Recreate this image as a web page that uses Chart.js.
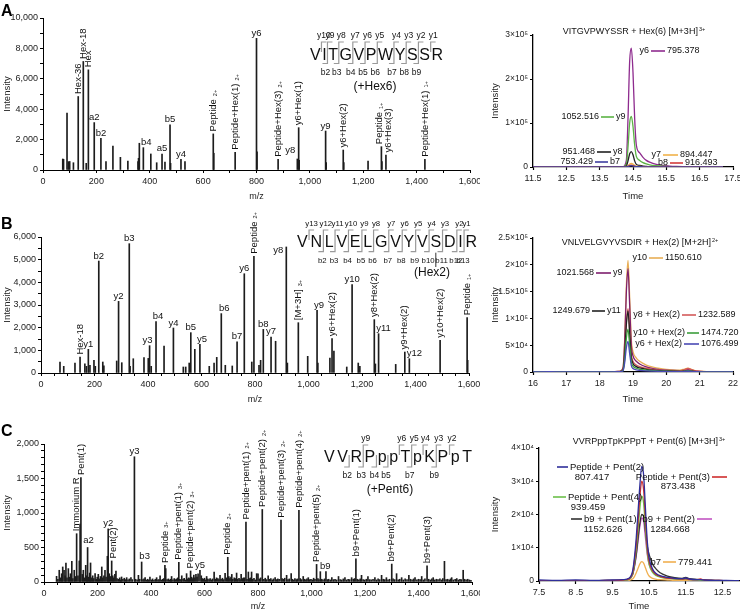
<!DOCTYPE html>
<html>
<head>
<meta charset="utf-8">
<script src="https://cdn.jsdelivr.net/npm/chart.js@4.4.1/dist/chart.umd.min.js"></script>
<style>
html, body { margin: 0; padding: 0; background: #fff; }
body { width: 740px; height: 612px; position: relative; overflow: hidden; font-family: Arial, "Liberation Sans", sans-serif; }
.box { position: absolute; }
.tag { position: absolute; left: 1px; font-weight: bold; font-size: 16px; line-height: 16px; color: #000; z-index: 2; }
</style>
</head>
<body>
<div class="box" style="left:0;top:0;width:480px;height:202px"><canvas id="specA"></canvas></div>
<div class="box" style="left:490px;top:0;width:250px;height:202px"><canvas id="xicA"></canvas></div>
<div class="box" style="left:0;top:200px;width:480px;height:205px"><canvas id="specB"></canvas></div>
<div class="box" style="left:490px;top:200px;width:250px;height:205px"><canvas id="xicB"></canvas></div>
<div class="box" style="left:0;top:410px;width:480px;height:202px"><canvas id="specC"></canvas></div>
<div class="box" style="left:490px;top:410px;width:250px;height:202px"><canvas id="xicC"></canvas></div>
<div class="tag" style="top:3px">A</div>
<div class="tag" style="top:216px">B</div>
<div class="tag" style="top:423px">C</div>
<script>
// ---------- data: MS/MS spectra, [m/z, intensity] ----------
const specA = [[74,725],[77,700],[90,3740],[95,550],[100,560],[114,480],[132,4835],[151,7140],[162,440],[170,6590],
  [192,3120],[217,2090],[236,550],[262,1580],[290,835],[318,590],[356,550],[358,770],[361,1760],[376,1470],
  [404,1055],[426,480],[446,1055],[457,527],[476,2970],[478,440],[517,700],[532,550],[638,2375],[640,1100],
  [720,1165],[800,8660],[802,1200],[881,700],[953,725],[958,2785],[960,640],[1059,2565],[1061,480],[1125,1315],
  [1127,488],[1218,590],[1268,1535],[1270,560],[1285,985],[1431,700]];

const specB = [[71,485],[85,295],[127,440],[146,705],[164,400],[170,295],[177,1045],[183,340],[198,560],[203,295],
  [216,4940],[231,485],[235,320],[283,530],[290,3160],[302,455],[330,5705],[333,295],[345,630],[385,675],
  [401,645],[406,1205],[412,295],[430,2265],[460,1190],[495,1985],[532,265],[541,265],[554,440],[560,1780],
  [575,1045],[594,1265],[629,295],[647,440],[657,690],[674,2620],[689,340],[715,310],[733,1380],[760,4380],
  [788,485],[796,5150],[815,340],[821,560],[831,1925],[860,1590],[877,1400],[917,5560],[921,440],[962,2220],
  [997,735],[1032,2765],[1035,440],[1080,660],[1088,1515],[1095,970],[1143,265],[1163,3900],[1186,440],[1192,295],
  [1246,2355],[1250,400],[1262,1735],[1326,380],[1360,925],[1377,630],[1492,1440],[1593,2440],[1595,560]];

const specC = [[47,82],[52,40],[57,170],[62,60],[66,120],[70,218],[75,170],[79,90],[82,276],[86,60],[91,194],[95,70],
  [99,120],[104,300],[108,50],[113,170],[117,80],[122,700],[127,90],[132,305],[135,840],[138,1515],[143,110],[147,170],
  [151,60],[156,242],[160,90],[163,500],[167,70],[171,130],[174,276],[178,60],[182,90],[186,50],[191,121],[195,40],
  [199,70],[203,111],[207,45],[211,80],[216,218],[220,60],[224,90],[228,170],[232,70],[237,373],[240,770],[244,120],
  [248,80],[253,305],[257,90],[261,60],[265,110],[269,160],[273,50],[278,40],[283,60],[287,30],[290,73],[295,40],
  [300,55],[305,35],[309,63],[314,30],[319,45],[325,63],[330,35],[338,1815],[342,40],[348,30],[353,97],[358,40],
  [365,290],[370,35],[374,45],[378,63],[383,30],[388,40],[392,25],[396,70],[401,30],[406,45],[411,25],[416,40],
  [421,63],[426,30],[430,35],[434,90],[439,30],[444,40],[448,50],[452,240],[455,194],[460,35],[465,45],[470,30],
  [474,40],[477,80],[482,30],[487,50],[491,35],[496,45],[500,60],[504,285],[508,40],[512,30],[515,90],[520,40],
  [524,55],[529,30],[533,121],[537,45],[541,60],[544,50],[548,160],[552,70],[556,50],[560,100],[564,60],[568,110],
  [572,70],[576,120],[583,170],[588,90],[592,50],[596,40],[600,55],[604,30],[608,80],[612,45],[617,35],[621,50],
  [626,30],[630,45],[636,145],[640,40],[645,60],[650,50],[654,35],[658,97],[662,40],[667,55],[672,35],[677,125],
  [682,60],[687,358],[691,80],[695,50],[699,70],[702,110],[706,40],[711,60],[715,50],[720,130],[724,40],[729,55],
  [733,35],[737,110],[742,50],[746,60],[750,60],[755,870],[759,40],[764,145],[768,50],[772,60],[776,145],[780,40],
  [785,55],[790,30],[795,121],[800,120],[805,45],[810,60],[816,1052],[822,40],[827,55],[832,35],[838,90],[843,40],
  [848,50],[853,30],[858,45],[864,63],[869,35],[874,45],[879,40],[886,896],[890,50],[895,40],[900,55],[907,97],
  [912,35],[917,45],[924,121],[928,40],[933,30],[938,50],[943,35],[947,45],[953,1040],[958,50],[963,35],[969,80],
  [974,40],[979,30],[983,45],[988,63],[993,35],[998,40],[1003,30],[1008,55],[1013,40],[1019,255],[1024,50],[1028,35],
  [1033,150],[1038,40],[1043,30],[1049,45],[1054,150],[1059,35],[1064,40],[1070,30],[1076,63],[1082,35],[1088,40],
  [1094,30],[1101,80],[1107,35],[1113,30],[1119,45],[1125,63],[1131,30],[1137,40],[1143,35],[1150,63],[1156,40],
  [1161,50],[1166,335],[1171,40],[1177,30],[1182,45],[1187,97],[1193,35],[1199,30],[1205,40],[1211,80],[1217,35],
  [1223,30],[1230,40],[1237,63],[1243,30],[1249,45],[1255,35],[1262,97],[1268,40],[1274,35],[1280,63],[1286,30],
  [1292,40],[1300,260],[1305,45],[1311,35],[1318,121],[1324,30],[1330,40],[1337,63],[1343,30],[1350,45],[1357,35],
  [1364,97],[1370,40],[1376,30],[1382,45],[1387,63],[1394,30],[1400,40],[1406,35],[1412,80],[1418,30],[1424,45],
  [1432,235],[1438,40],[1444,30],[1450,45],[1455,63],[1461,30],[1467,40],[1473,35],[1480,45],[1486,30],[1491,50],
  [1497,300],[1503,35],[1509,40],[1515,30],[1520,45],[1524,63],[1530,30],[1537,40],[1543,50],[1549,30],[1555,40],
  [1560,35],[1567,170],[1572,40],[1578,30],[1584,40],[1590,30],[1596,25]];

// peak annotations: [m/z, text, charge, rotated, dx, dy]
const notesA = [[132,'Hex-36','',1],[151,'Hex-18','',1],[170,'Hex','',1],[192,'a2','',0],[217,'b2','',0],
  [376,'b4','',0,3,0],[446,'a5','',0],[476,'b5','',0],[517,'y4','',0],[638,'Peptide','2+',1],
  [720,'Peptide+Hex(1)','2+',1],[800,'y6','',0],[881,'Peptide+Hex(3)','2+',1],[953,'y8','',0,-7,-3],
  [958,'y6+Hex(1)','',1],[1059,'y9','',0],[1125,'y6+Hex(2)','',1],[1268,'Peptide','1+',1,-2,0],
  [1285,'y6+Hex(3)','',1,2,0],[1431,'Peptide+Hex(1)','1+',1]];
const notesB = [[146,'Hex-18','',1],[177,'y1','',0],[216,'b2','',0],[290,'y2','',0],[330,'b3','',0],
  [406,'y3','',0,-2,0],[430,'b4','',0,2,0],[495,'y4','',0],[560,'b5','',0],[594,'y5','',0,2,0],
  [674,'b6','',0,3,0],[733,'b7','',0],[760,'y6','',0],[796,'Peptide','2+',1],[831,'b8','',0],
  [860,'y7','',0],[917,'y8','',0,-8,9],[962,'[M+3H]','3+',1],[1032,'y9','',0,2,0],[1088,'y6+Hex(2)','',1],
  [1163,'y10','',0],[1246,'y8+Hex(2)','',1],[1262,'y11','',0,5,0],[1360,'y9+Hex(2)','',1],
  [1377,'y12','',0,5,0],[1492,'y10+Hex(2)','',1],[1593,'Peptide','1+',1]];
const notesC = [[122,'Immonium R','',1],[138,'Pent(1)','',1],[163,'a2','',0,1,-2],[240,'y2','',0],
  [253,'Pent(2)','',1,2,0],[338,'y3','',0],[365,'b3','',0,3,0],[452,'Peptide','3+',1],
  [504,'Peptide+pent(1)','3+',1],[548,'Peptide+pent(2)','3+',1],[583,'y5','',0],[687,'Peptide','2+',1],
  [755,'Peptide+pent(1)','2+',1],[816,'Peptide+pent(2)','2+',1],[886,'Peptide+pent(3)','2+',1],
  [953,'Peptide+pent(4)','2+',1],[1019,'Peptide+pent(5)','2+',1],[1033,'b9','',0,5,0],
  [1166,'b9+Pent(1)','',1],[1300,'b9+Pent(2)','',1],[1432,'b9+Pent(3)','',1]];

const mzLabels = [0, 200, 400, 600, 800, 1000, 1200, 1400, 1600];
const intLabelsA = [0, 2000, 4000, 6000, 8000, 10000];
const intLabelsB = [0, 1000, 2000, 3000, 4000, 5000, 6000];
const intLabelsC = [0, 500, 1000, 1500, 2000];

// ---------- data: extracted ion chromatograms ----------
const timeA = [11.5, 12.5, 13.5, 14.0, 14.2, 14.3, 14.35, 14.4, 14.45, 14.5, 14.55, 14.6, 14.7, 14.8, 14.9, 15.0, 15.2, 15.4, 15.6, 15.8, 16.0, 16.5, 17.2];
const xicA_y6 = [0, 0, 0, 200, 500, 15000, 110000, 240000, 270000, 215000, 110000, 50000, 32000, 22000, 15000, 11000, 6000, 3500, 2000, 1200, 800, 400, 0];
const xicA_y9 = [0, 0, 0, 100, 200, 6000, 45000, 100000, 115000, 92000, 50000, 24000, 15000, 10000, 7000, 5000, 3000, 1800, 1000, 600, 400, 200, 0];
const xicA_y8 = [0, 0, 0, 0, 100, 2000, 14000, 30000, 35000, 28000, 14000, 6000, 3500, 2200, 1500, 1000, 600, 300, 200, 100, 0, 0, 0];
const xicA_y7 = [0, 0, 0, 0, 100, 500, 3000, 7000, 8000, 6500, 3500, 1800, 1200, 800, 600, 400, 300, 200, 100, 0, 0, 0, 0];
const xicA_b8 = [0, 0, 0, 0, 100, 300, 1500, 3500, 4000, 3200, 1800, 900, 600, 400, 300, 200, 100, 100, 0, 0, 0, 0, 0];
const xicA_b7 = [300, 300, 300, 300, 400, 500, 1200, 2600, 3000, 2400, 1400, 800, 600, 500, 400, 400, 300, 300, 300, 300, 300, 300, 300];

const timeB = [16, 16.5, 17, 17.5, 18, 18.4, 18.6, 18.7, 18.75, 18.8, 18.85, 18.9, 18.95, 19.0, 19.1, 19.2, 19.4, 19.6, 19.8, 20.0, 20.2, 20.4, 20.55, 20.65, 20.75, 20.9, 21.2, 21.6, 22];
const xicB_y10 = [0, 300, 200, 300, 400, 600, 1500, 8000, 60000, 160000, 208000, 140000, 60000, 38000, 26000, 20000, 13000, 9000, 6500, 5000, 4000, 3500, 5500, 7000, 5000, 2000, 800, 400, 200];
const xicB_y9 = [0, 200, 200, 200, 300, 500, 1200, 7000, 55000, 148000, 193000, 125000, 50000, 30000, 20000, 15000, 9500, 6500, 4500, 3500, 2800, 2500, 3500, 4500, 3500, 1500, 600, 300, 100];
const xicB_y8h = [0, 100, 100, 100, 200, 300, 800, 4000, 35000, 92000, 118000, 78000, 32000, 20000, 13000, 10000, 7000, 5000, 3500, 2800, 2200, 2000, 4500, 6500, 4500, 1500, 500, 200, 100];
const xicB_y11 = [0, 100, 100, 100, 200, 300, 700, 3500, 33000, 88000, 114000, 72000, 28000, 16000, 10000, 7500, 5000, 3500, 2500, 2000, 1500, 1200, 1800, 2200, 1600, 800, 300, 100, 0];
const xicB_y10h = [0, 100, 100, 100, 200, 300, 600, 2500, 23000, 62000, 80000, 50000, 19000, 11000, 7000, 5000, 3500, 2500, 1800, 1400, 1100, 900, 1500, 2000, 1400, 600, 200, 100, 0];
const xicB_y6h = [300, 500, 300, 300, 300, 400, 500, 2000, 17000, 45000, 57000, 34000, 12000, 6500, 4000, 3000, 2000, 1500, 1100, 900, 700, 600, 1000, 1400, 1000, 500, 300, 200, 200];

const timeC = [7.5, 8.0, 8.5, 9.0, 9.5, 9.8, 9.95, 10.05, 10.1, 10.15, 10.2, 10.25, 10.3, 10.35, 10.4, 10.45, 10.5, 10.6, 10.7, 10.8, 11.0, 11.2, 11.4, 11.5, 11.6, 11.8, 11.9, 12.0, 12.3, 12.6, 12.95];
const xicC_p2 = [300, 200, 300, 200, 300, 400, 800, 3000, 7000, 13000, 21000, 29000, 34500, 32000, 22000, 12000, 7000, 3500, 2200, 1600, 1100, 800, 700, 900, 600, 400, 400, 300, 200, 200, 100];
const xicC_p3 = [100, 100, 100, 100, 200, 300, 600, 2500, 6000, 11000, 18000, 25500, 30000, 27500, 19000, 10000, 6000, 3000, 1900, 1400, 900, 700, 600, 700, 500, 400, 600, 300, 200, 100, 100];
const xicC_p4 = [100, 100, 100, 100, 100, 200, 500, 2000, 5000, 9500, 15500, 22000, 25500, 23500, 16000, 8500, 5000, 2500, 1600, 1200, 800, 600, 500, 600, 400, 300, 300, 200, 100, 100, 100];
const xicC_b9p1 = [100, 100, 100, 100, 200, 300, 600, 2000, 4500, 8000, 13000, 17500, 20000, 19500, 15000, 10500, 8000, 5000, 3500, 2500, 1500, 1000, 800, 1100, 700, 500, 400, 300, 200, 100, 100];
const xicC_b9p2 = [100, 100, 100, 100, 100, 200, 500, 1800, 4200, 7500, 12000, 16500, 19000, 18000, 13000, 8000, 5000, 2800, 1800, 1300, 900, 700, 500, 600, 400, 300, 300, 200, 100, 100, 100];
const xicC_b7 = [50, 50, 50, 50, 50, 100, 200, 600, 1300, 2500, 3800, 5200, 5800, 5400, 4000, 2500, 1500, 800, 500, 400, 300, 200, 200, 200, 150, 100, 100, 100, 50, 50, 50];

const timeTicksA = [11.5, 12.5, 13.5, 14.5, 15.5, 16.5, 17.5];
const timeTicksB = [16, 17, 18, 19, 20, 21, 22];
const timeTicksC = [7.5, 8.5, 9.5, 10.5, 11.5, 12.5];
const timeLabelsC = ['7.5', '8 .5', '9.5', '10.5', '11.5', '12.5'];
const xicTicksA = [0, 100000, 200000, 300000];
const xicLabelsA = ['0', '1×10⁵', '2×10⁵', '3×10⁵'];
const xicTicksB = [0, 50000, 100000, 150000, 200000, 250000];
const xicLabelsB = ['0', '5×10⁴', '1×10⁵', '1.5×10⁵', '2×10⁵', '2.5×10⁵'];
const xicTicksC = [0, 10000, 20000, 30000, 40000];
const xicLabelsC = ['0', '1×10⁴', '2×10⁴', '3×10⁴', '4×10⁴'];

// ---------- drawing helpers ----------
const FONT = 'Arial, "Liberation Sans", sans-serif';
Chart.defaults.font.family = FONT;
Chart.defaults.color = '#222';

function drawNotes(chart, notes) {
  const ctx = chart.ctx, xs = chart.scales.x, ys = chart.scales.y;
  const pts = chart.data.datasets[0].data;
  ctx.fillStyle = '#111';
  notes.forEach(n => {
    const [mz, text, charge, rot, dx = 0, dy = 0] = n;
    let top = 0;
    pts.forEach(p => { if (Math.abs(p.x - mz) <= 3 && p.y > top) top = p.y; });
    const x = xs.getPixelForValue(mz) + dx;
    const y = ys.getPixelForValue(top) - 2.5 + dy;
    ctx.font = '9.5px ' + FONT;
    if (rot) {
      ctx.save();
      ctx.translate(x, y);
      ctx.rotate(-Math.PI / 2);
      ctx.textAlign = 'left';
      ctx.textBaseline = 'middle';
      ctx.fillText(text, 0, 0);
      if (charge) {
        const w = ctx.measureText(text).width;
        ctx.font = '5.5px ' + FONT;
        ctx.fillText(charge, w + 3, 2);
      }
      ctx.restore();
    } else {
      ctx.textAlign = 'center';
      ctx.textBaseline = 'alphabetic';
      ctx.fillText(text, x, y);
    }
  });
}

function drawSeq(ctx, s) {
  ctx.font = s.size + 'px ' + FONT;
  const letters = s.letters.split('');
  const widths = letters.map(ch => ctx.measureText(ch).width);
  const gap = (s.x1 - s.x0 - widths.reduce((a, b) => a + b, 0)) / (letters.length - 1);
  const lefts = [];
  let cx = s.x0;
  widths.forEach(w => { lefts.push(cx); cx += w + gap; });
  ctx.fillStyle = '#111';
  ctx.textAlign = 'left';
  ctx.textBaseline = 'alphabetic';
  letters.forEach((ch, i) => ctx.fillText(ch, lefts[i], s.base));
  const gx = g => lefts[g - 1] + widths[g - 1] + gap / 2;
  ctx.strokeStyle = '#9a9a9a';
  ctx.lineWidth = 1.2;
  ctx.font = s.small + 'px ' + FONT;
  ctx.textAlign = 'center';
  s.yIons.forEach(([g, lab]) => {
    const x = gx(g);
    ctx.beginPath(); ctx.moveTo(x, s.mid); ctx.lineTo(x, s.top); ctx.lineTo(x + 5, s.top); ctx.stroke();
    ctx.fillText(lab, x + 2.5, s.top - 4);
  });
  s.bIons.forEach(([g, lab]) => {
    const x = gx(g);
    ctx.beginPath(); ctx.moveTo(x, s.mid); ctx.lineTo(x, s.bot); ctx.lineTo(x - 5, s.bot); ctx.stroke();
    ctx.fillText(lab, x - 2 + (s.bShift || 0), s.bot + 11);
  });
  if (s.mod) {
    const i = s.mod - 1, x = lefts[i] + widths[i] / 2;
    ctx.strokeStyle = '#333'; ctx.lineWidth = 1;
    ctx.beginPath(); ctx.moveTo(x, s.bot + 1); ctx.lineTo(x, s.noteY - 6); ctx.stroke();
  }
  ctx.font = '12px ' + FONT;
  ctx.textBaseline = 'middle';
  ctx.fillText(s.note, s.noteX, s.noteY);
}

function drawTitle(ctx, t) {
  ctx.font = '9px ' + FONT;
  const w1 = ctx.measureText(t.text).width;
  ctx.font = '5.5px ' + FONT;
  const w2 = ctx.measureText(t.sup).width;
  const x = t.x - (w1 + w2 + 1) / 2;
  ctx.fillStyle = '#111';
  ctx.textAlign = 'left';
  ctx.textBaseline = 'middle';
  ctx.font = '9px ' + FONT;
  ctx.fillText(t.text, x, t.y);
  ctx.font = '5.5px ' + FONT;
  ctx.fillText(t.sup, x + w1 + 1, t.y - 3);
}

function drawKeys(chart, keys, size) {
  const ctx = chart.ctx;
  ctx.font = size + 'px ' + FONT;
  ctx.textBaseline = 'middle';
  keys.forEach(k => {
    ctx.strokeStyle = chart.data.datasets[k.ds].borderColor;
    ctx.lineWidth = 1.6;
    ctx.beginPath(); ctx.moveTo(k.x1, k.y); ctx.lineTo(k.x2, k.y); ctx.stroke();
    ctx.fillStyle = '#111';
    if (k.left) { ctx.textAlign = 'right'; ctx.fillText(k.left, k.x1 - 2, k.y); }
    if (k.right) { ctx.textAlign = 'left'; ctx.fillText(k.right, k.x2 + 2, k.y); }
    if (k.sub) { ctx.textAlign = 'center'; ctx.fillText(k.sub, k.subX, k.subY); }
  });
}

// extra drawing per canvas
const extras = {
  specA: { notes: notesA, seq: {
    letters: 'VITGVPWYSSR', x0: 310, x1: 443, base: 59.5, size: 16, small: 8.5, top: 42, mid: 52, bot: 63.5,
    yIons: [[1,'y10'],[2,'y9'],[3,'y8'],[4,'y7'],[5,'y6'],[6,'y5'],[7,'y4'],[8,'y3'],[9,'y2'],[10,'y1']],
    bIons: [[2,'b2'],[3,'b3'],[4,'b4'],[5,'b5'],[6,'b6'],[7,'b7'],[8,'b8'],[9,'b9']],
    note: '(+Hex6)', noteX: 375, noteY: 87 } },
  specB: { notes: notesB, seq: {
    letters: 'VNLVELGVYVSDIR', x0: 297, x1: 477, base: 46.7, size: 16, small: 7.8, top: 30, mid: 40, bot: 51.7, bShift: 1,
    yIons: [[1,'y13'],[2,'y12'],[3,'y11'],[4,'y10'],[5,'y9'],[6,'y8'],[7,'y7'],[8,'y6'],[9,'y5'],[10,'y4'],[11,'y3'],[12,'y2'],[13,'y1']],
    bIons: [[2,'b2'],[3,'b3'],[4,'b4'],[5,'b5'],[6,'b6'],[7,'b7'],[8,'b8'],[9,'b9'],[10,'b10'],[11,'b11'],[12,'b12'],[13,'b13']],
    mod: 11, note: '(Hex2)', noteX: 432, noteY: 73 } },
  specC: { notes: notesC, seq: {
    letters: 'VVRPppTpKPpT', x0: 324, x1: 472, base: 51.7, size: 16, small: 8.5, top: 35, mid: 45, bot: 57,
    yIons: [[3,'y9'],[6,'y6'],[7,'y5'],[8,'y4'],[9,'y3'],[10,'y2']],
    bIons: [[2,'b2'],[3,'b3'],[4,'b4'],[5,'b5'],[7,'b7'],[9,'b9']],
    note: '(+Pent6)', noteX: 390, noteY: 80 } },
  xicA: { title: { text: 'VITGVPWYSSR + Hex(6) [M+3H]', sup: '3+', x: 144, y: 32 }, keySize: 9, keys: [
    { ds: 5, x1: 161, x2: 175, y: 51, left: 'y6', right: '795.378' },
    { ds: 4, x1: 111, x2: 124, y: 117, left: '1052.516', right: 'y9' },
    { ds: 3, x1: 107, x2: 121, y: 152, left: '951.468', right: 'y8' },
    { ds: 0, x1: 105, x2: 118, y: 162, left: '753.429', right: 'b7' },
    { ds: 2, x1: 173, x2: 188, y: 155, left: 'y7', right: '894.447' },
    { ds: 1, x1: 180, x2: 193, y: 163, left: 'b8', right: '916.493' } ] },
  xicB: { title: { text: 'VNLVELGVYVSDIR + Hex(2) [M+2H]', sup: '2+', x: 150, y: 43 }, keySize: 9, keys: [
    { ds: 5, x1: 159, x2: 173, y: 58, left: 'y10', right: '1150.610' },
    { ds: 4, x1: 106, x2: 121, y: 73, left: '1021.568', right: 'y9' },
    { ds: 2, x1: 102, x2: 115, y: 111, left: '1249.679', right: 'y11' },
    { ds: 3, x1: 192, x2: 206, y: 115, left: 'y8 + Hex(2)', right: '1232.589' },
    { ds: 1, x1: 197, x2: 209, y: 133, left: 'y10 + Hex(2)', right: '1474.720' },
    { ds: 0, x1: 194, x2: 209, y: 144, left: 'y6 + Hex(2)', right: '1076.499' } ] },
  xicC: { title: { text: 'VVRPppTpKPPpT + Pent(6) [M+3H]', sup: '3+', x: 159, y: 32 }, keySize: 9.5, keys: [
    { ds: 0, x1: 67, x2: 78, y: 57, right: 'Peptide + Pent(2)', sub: '807.417', subX: 102, subY: 67 },
    { ds: 1, x1: 222, x2: 237, y: 67, left: 'Peptide + Pent(3)', sub: '873.438', subX: 188, subY: 76 },
    { ds: 2, x1: 63, x2: 76, y: 87, right: 'Peptide + Pent(4)', sub: '939.459', subX: 98, subY: 97 },
    { ds: 3, x1: 81, x2: 92, y: 109, right: 'b9 + Pent(1)', sub: '1152.626', subX: 113, subY: 119 },
    { ds: 4, x1: 207, x2: 222, y: 109, left: 'b9 + Pent(2)', sub: '1284.668', subX: 180, subY: 119 },
    { ds: 5, x1: 173, x2: 186, y: 152, left: 'b7', right: '779.441' } ] }
};

const overlay = {
  id: 'overlay',
  afterDraw(chart) {
    const e = extras[chart.canvas.id];
    if (!e) return;
    const ctx = chart.ctx;
    ctx.save();
    if (e.notes) drawNotes(chart, e.notes);
    if (e.seq) drawSeq(ctx, e.seq);
    if (e.title) drawTitle(ctx, e.title);
    if (e.keys) drawKeys(chart, e.keys, e.keySize);
    ctx.restore();
  }
};

function spectrumChart(id, peaks, c) {
  const xAll = [], yAll = [];
  for (let v = 0; v <= 1600; v += c.xMinor) xAll.push(v);
  for (let v = 0; v <= c.yMax; v += c.yMinor) yAll.push(v);
  return new Chart(document.getElementById(id), {
    type: 'bar',
    data: { datasets: [{ data: peaks.map(p => ({ x: p[0], y: p[1] })), backgroundColor: '#1c1c1c', barThickness: 1, grouped: false }] },
    options: {
      responsive: true, maintainAspectRatio: false, animation: false, devicePixelRatio: 1,
      layout: { padding: c.pad },
      plugins: { legend: { display: false }, tooltip: { enabled: false } },
      scales: {
        x: {
          type: 'linear', min: 0, max: 1600, offset: false,
          afterBuildTicks: s => { s.ticks = xAll.map(v => ({ value: v })); },
          afterFit: s => { s.height = c.xH; s.paddingLeft = 0; s.paddingRight = 0; },
          grid: { offset: false, drawOnChartArea: false, tickLength: 3, tickColor: '#000' },
          border: { color: '#000', width: 1 },
          ticks: { autoSkip: false, maxRotation: 0, padding: 3, font: { size: 9 }, color: '#222',
            callback: v => mzLabels.includes(v) ? v.toLocaleString('en-US') : '' },
          title: { display: true, text: 'm/z', font: { size: 9 }, color: '#222', padding: 0 }
        },
        y: {
          min: 0, max: c.yMax,
          afterBuildTicks: s => { s.ticks = yAll.map(v => ({ value: v })); },
          afterFit: s => { s.width = c.yW; s.paddingTop = 0; s.paddingBottom = 0; },
          grid: { drawOnChartArea: false, tickLength: 3, tickColor: '#000' },
          border: { color: '#000', width: 1 },
          ticks: { autoSkip: false, padding: 2, font: { size: 9 }, color: '#222',
            callback: v => c.yLabels.includes(v) ? v.toLocaleString('en-US') : '' },
          title: { display: true, text: 'Intensity', font: { size: 9.5 }, color: '#222', padding: 0 }
        }
      }
    },
    plugins: [overlay]
  });
}

function xicChart(id, times, series, c) {
  return new Chart(document.getElementById(id), {
    type: 'line',
    data: { datasets: series.map(s => ({
      data: times.map((t, i) => ({ x: t, y: s.values[i] })),
      borderColor: s.color, borderWidth: 1.3, pointRadius: 0, fill: false, cubicInterpolationMode: 'monotone'
    })) },
    options: {
      responsive: true, maintainAspectRatio: false, animation: false, devicePixelRatio: 1,
      layout: { padding: c.pad },
      plugins: { legend: { display: false }, tooltip: { enabled: false } },
      scales: {
        x: {
          type: 'linear', min: c.xMin, max: c.xMax,
          afterBuildTicks: s => { s.ticks = c.xTicks.map(v => ({ value: v })); },
          afterFit: s => { s.height = c.xH; s.paddingLeft = 0; s.paddingRight = 0; },
          grid: { drawOnChartArea: false, tickLength: 3, tickColor: '#000', tickWidth: 1.2 },
          border: { color: '#000', width: 1.3 },
          ticks: { autoSkip: false, maxRotation: 0, padding: 3, font: { size: 9 }, color: '#222',
            callback: (v, i) => c.xLabels[i] },
          title: { display: true, text: 'Time', font: { size: 9.5 }, color: '#222', padding: 0 }
        },
        y: {
          min: 0, max: c.yMax,
          afterBuildTicks: s => { s.ticks = c.yTicks.map(v => ({ value: v })); },
          afterFit: s => { s.width = c.yW; s.paddingTop = 0; s.paddingBottom = 0; },
          grid: { drawOnChartArea: false, tickLength: 3, tickColor: '#000', tickWidth: 1.2 },
          border: { color: '#000', width: 1.3 },
          ticks: { autoSkip: false, padding: 2, font: { size: 8.5 }, color: '#222',
            callback: (v, i) => c.yLabels[i] },
          title: { display: true, text: 'Intensity', font: { size: 9.5 }, color: '#222', padding: 0 }
        }
      }
    },
    plugins: [overlay]
  });
}

// ---------- build ----------
spectrumChart('specA', specA, { yMax: 10000, yMinor: 1000, yLabels: intLabelsA, xMinor: 100,
  pad: { top: 18, right: 10, left: 2, bottom: 0 }, yW: 41, xH: 32 });
spectrumChart('specB', specB, { yMax: 6000, yMinor: 500, yLabels: intLabelsB, xMinor: 50,
  pad: { top: 37, right: 11, left: 2, bottom: 0 }, yW: 39, xH: 32 });
spectrumChart('specC', specC, { yMax: 2000, yMinor: 100, yLabels: intLabelsC, xMinor: 50,
  pad: { top: 34, right: 8, left: 2, bottom: 0 }, yW: 42, xH: 30 });

xicChart('xicA', timeA, [
  { values: xicA_b7, color: '#3f3fa0' },
  { values: xicA_b8, color: '#d23b3b' },
  { values: xicA_y7, color: '#f0b24a' },
  { values: xicA_y8, color: '#222222' },
  { values: xicA_y9, color: '#5cb345' },
  { values: xicA_y6, color: '#8e2b8e' }
], { xMin: 11.5, xMax: 17.5, xTicks: timeTicksA, xLabels: timeTicksA.map(String), yMax: 300000,
  yTicks: xicTicksA, yLabels: xicLabelsA, pad: { top: 35, right: 7, left: 0, bottom: 0 }, yW: 43, xH: 35 });

xicChart('xicB', timeB, [
  { values: xicB_y6h, color: '#4a4ab5' },
  { values: xicB_y10h, color: '#3c9e3c' },
  { values: xicB_y11, color: '#222222' },
  { values: xicB_y8h, color: '#d45a5a' },
  { values: xicB_y9, color: '#7d1f6d' },
  { values: xicB_y10, color: '#e8ae55' }
], { xMin: 16, xMax: 22, xTicks: timeTicksB, xLabels: timeTicksB.map(String), yMax: 250000,
  yTicks: xicTicksB, yLabels: xicLabelsB, pad: { top: 38, right: 7, left: 0, bottom: 0 }, yW: 43, xH: 33 });

xicChart('xicC', timeC, [
  { values: xicC_p2, color: '#2f2f9a' },
  { values: xicC_p3, color: '#cf2f2f' },
  { values: xicC_p4, color: '#6cc04a' },
  { values: xicC_b9p1, color: '#333333' },
  { values: xicC_b9p2, color: '#c256c2' },
  { values: xicC_b7, color: '#f0b050' }
], { xMin: 7.5, xMax: 12.95, xTicks: timeTicksC, xLabels: timeLabelsC, yMax: 40000,
  yTicks: xicTicksC, yLabels: xicLabelsC, pad: { top: 38, right: 1, left: 0, bottom: 0 }, yW: 49, xH: 31 });
</script>
</body>
</html>
